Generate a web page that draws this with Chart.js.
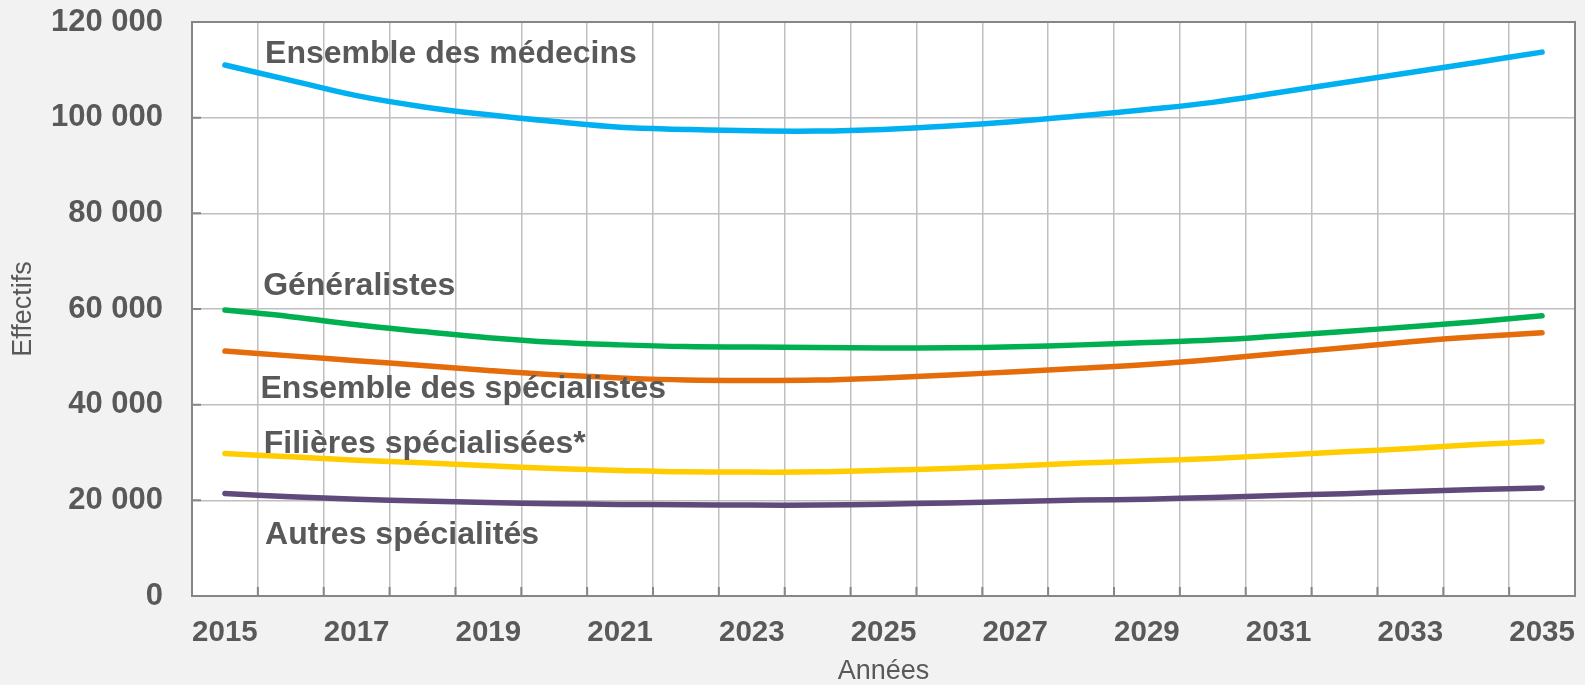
<!DOCTYPE html>
<html lang="fr">
<head>
<meta charset="utf-8">
<title>Effectifs de médecins 2015-2035</title>
<script src="https://cdn.jsdelivr.net/npm/chart.js@4.4.1/dist/chart.umd.min.js"></script>
<style>
  html, body { margin: 0; padding: 0; background: #f2f2f2; }
  canvas { display: block; }
</style>
</head>
<body>
<canvas id="chart" width="1585" height="685"></canvas>
<script>
// Données
const years = ['2015','2016','2017','2018','2019','2020','2021','2022','2023','2024','2025',
               '2026','2027','2028','2029','2030','2031','2032','2033','2034','2035'];

const medecins      = [111000,107800,104600,102300,100600,99200,98000,97550,97250,97200,97550,
                       98250,99200,100400,101700,103200,105250,107350,109450,111550,113700];
const generalistes  = [59800,58400,56700,55300,54000,53050,52500,52150,52050,51950,51850,
                       51900,52100,52500,53000,53500,54350,55300,56300,57350,58600];
const specialistes  = [51200,50200,49200,48200,47150,46250,45600,45150,45050,45150,45600,
                       46200,46900,47600,48400,49450,50700,51900,53150,54200,55050];
const filieres      = [29800,29100,28400,27850,27250,26650,26250,25950,25900,25950,26300,
                       26650,27200,27800,28250,28750,29450,30150,30850,31650,32300];
const autres        = [21450,20750,20250,19850,19550,19300,19150,19100,19000,19000,19200,
                       19450,19750,20050,20250,20600,21000,21400,21850,22250,22600];

const yTicks = [0, 20000, 40000, 60000, 80000, 100000, 120000];

// étiquettes des courbes : [texte, index année (décimal), valeur]
const seriesLabels = [
  ['Ensemble des médecins', 0.61, 113200],
  ['Généralistes', 0.58, 64850],
  ['Ensemble des spécialistes', 0.54, 43200],
  ['Filières spécialisées*', 0.59, 31650],
  ['Autres spécialités', 0.61, 12700]
];

const FONT = "'Liberation Sans', Arial, sans-serif";
const TEXT = '#595959';
const AXIS = '#868686';

const fmt = v => String(v).replace(/\B(?=(\d{3})+(?!\d))/g, ' ');

// fond gris + zone de tracé blanche
const plotFrame = {
  id: 'plotFrame',
  beforeDraw(chart) {
    const { ctx, chartArea: a } = chart;
    ctx.save();
    ctx.fillStyle = '#f2f2f2';
    ctx.fillRect(0, 0, chart.width, chart.height);
    ctx.fillStyle = '#ffffff';
    ctx.fillRect(a.left, a.top, a.right - a.left, a.bottom - a.top);
    ctx.restore();
  },
  afterDraw(chart) {
    const { ctx, chartArea: a, scales: { x, y } } = chart;
    ctx.save();
    ctx.strokeStyle = AXIS;
    ctx.lineWidth = 2;
    ctx.strokeRect(a.left, a.top, a.right - a.left, a.bottom - a.top);
    // petites graduations vers l'intérieur
    ctx.beginPath();
    y.ticks.forEach(t => {
      const py = y.getPixelForValue(t.value);
      ctx.moveTo(a.left, py); ctx.lineTo(a.left + 9, py);
    });
    const step = x.getPixelForValue(1) - x.getPixelForValue(0);
    for (let i = 0; i <= years.length; i++) {
      const px = x.getPixelForValue(0) - step / 2 + i * step;
      ctx.moveTo(px, a.bottom); ctx.lineTo(px, a.bottom - 9);
    }
    ctx.stroke();
    ctx.restore();
  }
};

const lineLabels = {
  id: 'lineLabels',
  afterDatasetsDraw(chart) {
    const { ctx, scales: { x, y } } = chart;
    const step = x.getPixelForValue(1) - x.getPixelForValue(0);
    ctx.save();
    ctx.font = `bold 32px ${FONT}`;
    ctx.fillStyle = TEXT;
    ctx.textAlign = 'left';
    ctx.textBaseline = 'middle';
    seriesLabels.forEach(([txt, idx, val]) => {
      ctx.fillText(txt, x.getPixelForValue(0) + idx * step, y.getPixelForValue(val));
    });
    ctx.restore();
  }
};

const mkLine = (label, data, color) => ({
  label, data,
  borderColor: color,
  backgroundColor: color,
  borderWidth: 5.5,
  borderCapStyle: 'round',
  pointRadius: 0,
  tension: 0.4,
  fill: false
});

new Chart(document.getElementById('chart'), {
  type: 'line',
  data: {
    labels: years,
    datasets: [
      mkLine('Ensemble des médecins', medecins, '#00b0f0'),
      mkLine('Généralistes', generalistes, '#00b050'),
      mkLine('Ensemble des spécialistes', specialistes, '#e46c0a'),
      mkLine('Filières spécialisées*', filieres, '#ffcc00'),
      mkLine('Autres spécialités', autres, '#604a7b')
    ]
  },
  options: {
    responsive: false,
    animation: false,
    layout: { padding: { top: 22, right: 10, left: 0, bottom: 0 } },
    plugins: { legend: { display: false }, tooltip: { enabled: false } },
    scales: {
      x: {
        offset: true,
        grid: { offset: true, color: '#bfbfbf', lineWidth: 1.5, drawTicks: false },
        border: { display: true, color: AXIS, width: 2 },
        ticks: {
          autoSkip: false, maxRotation: 0, padding: 19,
          color: TEXT, font: { family: FONT, size: 29.5, weight: 'bold' },
          callback: (v, i) => (i % 2 === 0 ? years[i] : '')
        },
        title: {
          display: true, text: 'Années', color: TEXT,
          font: { family: FONT, size: 27, lineHeight: 1 },
          padding: { top: 0, bottom: 0 }
        },
        afterFit: s => { s.height = 89; s.paddingLeft = 0; s.paddingRight = 0; }
      },
      y: {
        min: 0, max: 120000,
        afterBuildTicks: s => { s.ticks = yTicks.map(v => ({ value: v })); },
        grid: { color: '#bfbfbf', lineWidth: 1.5, drawTicks: false },
        border: { display: true, color: AXIS, width: 2 },
        ticks: {
          padding: 29, color: TEXT,
          font: { family: FONT, size: 31, weight: 'bold' },
          callback: v => fmt(v)
        },
        title: {
          display: true, text: 'Effectifs', color: TEXT,
          font: { family: FONT, size: 27, lineHeight: 1 },
          padding: { top: 10, bottom: 0 }
        },
        afterFit: s => { s.width = 192; s.paddingTop = 0; s.paddingBottom = 0; }
      }
    }
  },
  plugins: [plotFrame, lineLabels]
});
</script>
</body>
</html>
